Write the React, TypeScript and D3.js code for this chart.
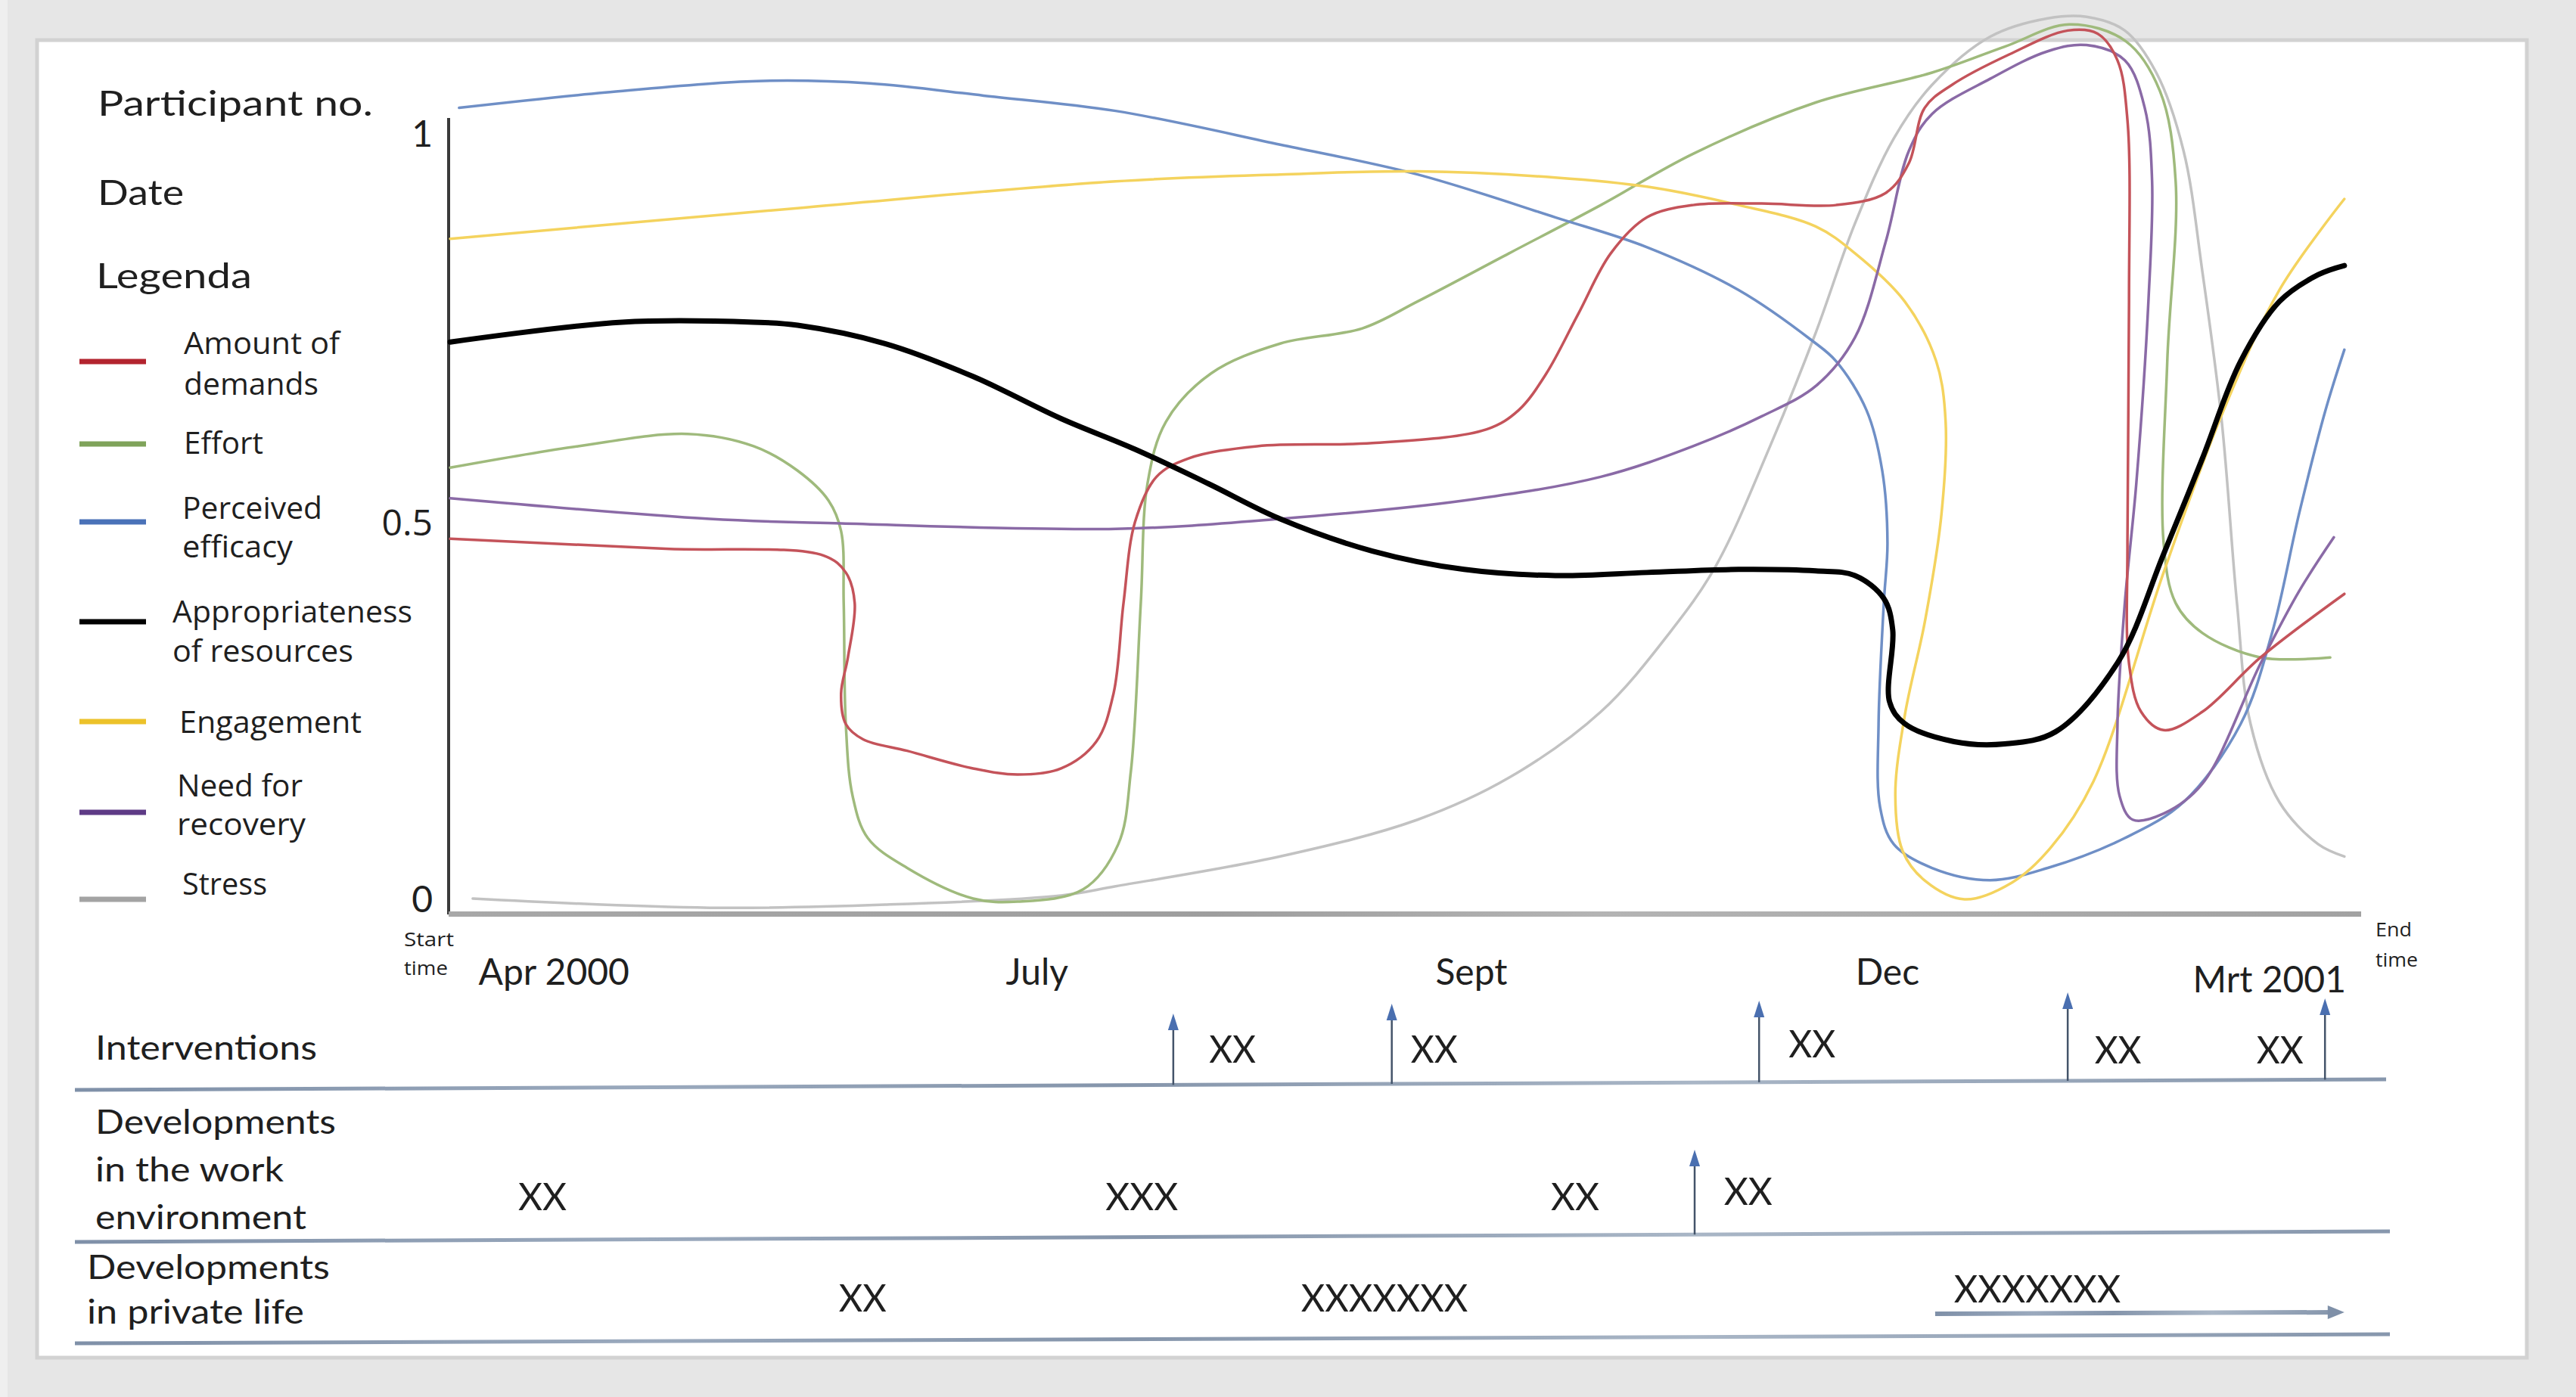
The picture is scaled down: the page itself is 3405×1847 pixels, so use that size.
import React from 'react';
import * as d3 from 'd3';

type Pt = [number, number]; // [day since start (Apr 2000), level 0..1]

// ---------- DATA ----------
const demands: Pt[] = [
  [0.3, 0.471], [41.4, 0.458], [71.6, 0.449], [75.8, 0.427], [77.5, 0.387], [76.2, 0.316],
  [74.9, 0.269], [75.8, 0.229], [79.1, 0.209], [87.5, 0.194], [100.1, 0.171], [108.6, 0.163],
  [116.9, 0.171], [123.6, 0.206], [126.9, 0.269], [128.8, 0.387], [131.0, 0.493], [135.1, 0.552],
  [141.2, 0.576], [154.3, 0.592], [176.3, 0.596], [198.1, 0.614], [204.2, 0.639], [209.5, 0.687],
  [215.6, 0.765], [221.8, 0.844], [228.7, 0.891], [237.5, 0.907], [250.6, 0.909], [264.8, 0.907],
  [274.3, 0.923], [278.7, 0.962], [281.7, 1.034], [286.9, 1.064], [297.9, 1.104], [309.0, 1.135],
  [314.7, 1.131], [318.5, 1.096], [320.4, 1.018], [320.7, 0.781], [320.4, 0.466], [320.7, 0.308],
  [323.0, 0.245], [327.3, 0.221], [334.7, 0.245], [345.8, 0.316], [361.8, 0.399],
];
const effort: Pt[] = [
  [0.3, 0.564], [24.7, 0.592], [45.6, 0.608], [58.2, 0.592], [66.6, 0.560], [72.5, 0.521],
  [74.9, 0.481], [75.4, 0.387], [75.8, 0.229], [77.1, 0.135], [80.0, 0.080], [87.5, 0.041],
  [100.1, 0.001], [108.6, -0.003], [121.1, 0.013], [127.8, 0.072], [130.2, 0.167], [132.1, 0.387],
  [133.4, 0.544], [136.9, 0.624], [145.5, 0.687], [158.7, 0.726], [174.4, 0.746], [184.9, 0.781],
  [202.4, 0.844], [219.9, 0.907], [237.5, 0.974], [260.9, 1.041], [283.1, 1.080], [297.0, 1.114],
  [309.3, 1.143], [320.1, 1.121], [326.6, 1.056], [329.6, 0.938], [328.0, 0.703], [327.3, 0.466],
  [329.6, 0.387], [334.7, 0.348], [345.8, 0.316], [359.1, 0.316],
];
const efficacy: Pt[] = [
  [2.0, 1.034], [29.9, 1.054], [58.8, 1.069], [80.4, 1.066], [102.1, 1.050], [127.3, 1.030],
  [158.7, 0.986], [184.9, 0.947], [211.2, 0.891], [228.7, 0.852], [246.2, 0.796], [260.2, 0.730],
  [264.8, 0.703], [270.6, 0.639], [273.6, 0.560], [274.6, 0.466], [273.9, 0.387], [272.9, 0.229],
  [273.2, 0.120], [275.8, 0.072], [283.1, 0.041], [294.2, 0.025], [305.2, 0.041], [319.9, 0.080],
  [331.1, 0.127], [342.0, 0.229], [348.0, 0.348], [353.2, 0.505], [358.2, 0.639], [361.8, 0.718],
];
const resources: Pt[] = [
  [0.3, 0.728], [33.1, 0.754], [58.2, 0.754], [66.6, 0.750], [83.3, 0.726], [100.1, 0.683],
  [116.9, 0.628], [131.0, 0.588], [145.0, 0.543], [158.7, 0.497], [176.3, 0.455], [193.8, 0.431],
  [211.2, 0.423], [228.7, 0.427], [246.2, 0.431], [260.9, 0.429], [268.4, 0.423], [273.9, 0.393],
  [275.6, 0.352], [275.0, 0.258], [277.8, 0.230], [287.3, 0.206], [297.0, 0.203], [306.7, 0.219],
  [318.6, 0.310], [327.3, 0.451], [334.7, 0.576], [342.0, 0.703], [349.4, 0.781], [356.8, 0.816],
  [361.8, 0.828],
];
const engagement: Pt[] = [
  [0.3, 0.863], [66.6, 0.903], [127.3, 0.938], [158.7, 0.947], [184.9, 0.951], [211.2, 0.943],
  [228.7, 0.931], [246.2, 0.907], [260.9, 0.879], [268.4, 0.844], [277.9, 0.781], [283.9, 0.703],
  [285.7, 0.624], [284.9, 0.503], [281.8, 0.365], [277.9, 0.240], [276.1, 0.136], [277.5, 0.063],
  [281.8, 0.024], [289.3, 0.000], [298.4, 0.022], [305.7, 0.067], [313.9, 0.154], [327.3, 0.427],
  [338.4, 0.633], [349.4, 0.796], [361.8, 0.915],
];
const recovery: Pt[] = [
  [0.3, 0.524], [49.8, 0.497], [74.9, 0.491], [127.3, 0.484], [158.7, 0.497], [193.8, 0.521],
  [219.9, 0.552], [237.5, 0.592], [250.6, 0.631], [261.0, 0.671], [268.4, 0.734], [274.3, 0.860],
  [278.7, 0.978], [283.1, 1.026], [294.2, 1.072], [305.2, 1.108], [312.6, 1.116], [319.9, 1.096],
  [323.7, 1.034], [325.1, 0.939], [324.4, 0.781], [322.1, 0.544], [319.9, 0.387], [318.5, 0.229],
  [318.9, 0.135], [321.4, 0.104], [327.3, 0.112], [334.7, 0.151], [345.8, 0.308], [353.2, 0.403],
  [359.8, 0.473],
];
const stress: Pt[] = [
  [4.6, 0.001], [49.8, -0.011], [83.3, -0.007], [116.9, 0.005], [127.3, 0.017], [158.7, 0.056],
  [184.9, 0.104], [202.4, 0.159], [219.9, 0.245], [233.0, 0.348], [241.8, 0.435], [252.2, 0.592],
  [260.9, 0.740], [268.4, 0.883], [275.8, 0.994], [283.1, 1.064], [294.2, 1.127], [305.2, 1.151],
  [312.6, 1.153], [319.9, 1.135], [325.9, 1.080], [331.1, 0.978], [334.7, 0.820], [338.4, 0.624],
  [341.3, 0.387], [343.9, 0.229], [349.4, 0.127], [356.8, 0.072], [361.8, 0.056],
];

const legendLabels: string[][] = [
  ['Amount of', 'demands'], ['Effort'], ['Perceived', 'efficacy'],
  ['Appropriateness', 'of resources'], ['Engagement'], ['Need for', 'recovery'], ['Stress'],
];
const legendColors = ['#b3242f', '#7fa35a', '#4a72b8', '#000000', '#ecc22a', '#5e3b86', '#a3a3a3'];
const curveColors = ['#c4535a', '#9fba7c', '#6f8fc6', '#000000', '#f4d35e', '#8a6aa6', '#c2c2c2'];

const yTicks = [1, 0.5, 0];
const monthLabels = ['Apr 2000', 'July', 'Sept', 'Dec', 'Mrt 2001'];
const monthDays = [20.1, 112.3, 195.2, 274.6, 347.5];

const interventionDays = [138.3, 180.0, 250.1, 309.0, 358.1];
const interventionLabels = ['XX', 'XX', 'XX', 'XX', 'XX'];
const interventionLabelDays = [149.6, 188.1, 260.2, 318.6, 349.5];

const workLabels = ['XX', 'XXX', 'XX', 'XX'];
const workLabelDays = [17.9, 132.3, 215.0, 248.0];
const workArrowDays = [237.8];

const privateLabels = ['XX', 'XXXXXXX', 'XXXXXXX'];
const privateLabelDays = [79.0, 178.6, 303.2];
const privateSpan = [283.7, 361.8];

// ---------- LAYOUT ----------
const W = 3405;
const H = 1847;
const xScale = d3.scaleLinear().domain([0, 365]).range([593, 3121]);
const yScale = d3.scaleLinear().domain([0, 1]).range([1189, 177]);

const lineGen = d3
  .line<Pt>()
  .x((d) => xScale(d[0]))
  .y((d) => yScale(d[1]))
  .curve(d3.curveCatmullRom.alpha(0.5));

const seriesList: Pt[][] = [demands, effort, efficacy, resources, engagement, recovery, stress];
const drawOrder = [6, 1, 2, 4, 5, 0, 3];

const legendLayout = [
  { y: 478, tx: 243, base: [468, 522], w: [206, 178] },
  { y: 587, tx: 243, base: [600], w: [105] },
  { y: 690, tx: 241, base: [686, 737], w: [185, 146] },
  { y: 822, tx: 228, base: [823, 875], w: [317, 239] },
  { y: 954, tx: 237, base: [969], w: [241] },
  { y: 1074, tx: 234, base: [1053, 1104], w: [166, 170] },
  { y: 1189, tx: 241, base: [1183], w: [112] },
];

const rows = [
  { x1: 99, y1: 1441, x2: 3154, y2: 1427 },
  { x1: 99, y1: 1642, x2: 3159, y2: 1628 },
  { x1: 99, y1: 1776, x2: 3159, y2: 1764 },
];
const rowY = (r: number, x: number) => {
  const o = rows[r];
  return o.y1 + ((x - o.x1) / (o.x2 - o.x1)) * (o.y2 - o.y1);
};

const CAL = 'Lato, "Open Sans", sans-serif';
const SEG = '"Open Sans", "Noto Sans", sans-serif';
const TXT = '#1f1f1f';

const interventionTips = [1340, 1327, 1323, 1312, 1320];
const interventionBaselines = [1405, 1405, 1398, 1406, 1406];

function UpArrow({ x, base, tip }: { x: number; base: number; tip: number }) {
  return (
    <g>
      <line x1={x} y1={base} x2={x} y2={tip + 12} stroke="#44546a" strokeWidth={2.5} />
      <path d={`M${x},${tip} L${x - 7},${tip + 22} L${x + 7},${tip + 22} Z`} fill="#4a6fb0" />
    </g>
  );
}

export default function App() {
  const xTicksText = monthLabels.map((m, i) => ({ m, x: xScale(monthDays[i]) }));
  const arrowY = 1735;
  const pa1 = xScale(privateSpan[0]);
  const pa2 = xScale(privateSpan[1]);
  return (
    <svg
      width={W}
      height={H}
      viewBox={`0 0 ${W} ${H}`}
      style={{ position: 'absolute', left: 0, top: 0, display: 'block' }}
    >
      <defs>
        <linearGradient id="rowGrad" x1="0" x2="1" y1="0" y2="0">
          <stop offset="0" stopColor="#7f90a8" />
          <stop offset="0.25" stopColor="#9aa9bd" />
          <stop offset="0.45" stopColor="#8595ab" />
          <stop offset="0.7" stopColor="#a9b6c6" />
          <stop offset="1" stopColor="#8797ad" />
        </linearGradient>
        <linearGradient id="axisGrad" x1="0" x2="1" y1="0" y2="0">
          <stop offset="0" stopColor="#a8a8a8" />
          <stop offset="0.4" stopColor="#9e9e9e" />
          <stop offset="0.6" stopColor="#b4b4b4" />
          <stop offset="1" stopColor="#a2a2a2" />
        </linearGradient>
      </defs>

      {/* frame */}
      <rect x={0} y={0} width={W} height={H} fill="#e6e6e6" />
      <rect x={0} y={0} width={10} height={H} fill="#efefef" />
      <rect x={49} y={53} width={3291} height={1742} fill="#ffffff" stroke="#d2d2d2" strokeWidth={5} />

      {/* header texts */}
      <text x={129} y={153} fontFamily={CAL} fontSize={47} fill={TXT} textLength={364} lengthAdjust="spacingAndGlyphs">
        Participant no.
      </text>
      <text x={129} y={271} fontFamily={CAL} fontSize={47} fill={TXT} textLength={114} lengthAdjust="spacingAndGlyphs">
        Date
      </text>
      <text x={127} y={381} fontFamily={CAL} fontSize={47} fill={TXT} textLength={206} lengthAdjust="spacingAndGlyphs">
        Legenda
      </text>

      {/* legend */}
      {legendLabels.map((lines, i) => {
        const L = legendLayout[i];
        return (
          <g key={i}>
            <line x1={105} x2={193} y1={L.y} y2={L.y} stroke={legendColors[i]} strokeWidth={7} />
            {lines.map((t, j) => (
              <text
                key={j}
                x={L.tx}
                y={L.base[j]}
                fontFamily={SEG}
                fontSize={40}
                fill={TXT}
                textLength={L.w[j]}
                lengthAdjust="spacingAndGlyphs"
              >
                {t}
              </text>
            ))}
          </g>
        );
      })}

      {/* y ticks */}
      {yTicks.map((v) => (
        <text
          key={v}
          x={572}
          y={yScale(v) + (v === 0.5 ? 25 : 17)}
          textAnchor="end"
          fontFamily={v === 0.5 ? SEG : CAL}
          fontSize={48}
          fill={TXT}
        >
          {String(v)}
        </text>
      ))}

      {/* axes */}
      <line x1={xScale(0)} x2={xScale(0)} y1={156} y2={1209} stroke="#3a3a3a" strokeWidth={4} />
      <rect x={xScale(0)} y={1205} width={xScale(365) - xScale(0)} height={7} fill="url(#axisGrad)" />

      <text x={534} y={1251} fontFamily={SEG} fontSize={26} fill={TXT} textLength={66} lengthAdjust="spacingAndGlyphs">Start</text>
      <text x={534} y={1289} fontFamily={SEG} fontSize={26} fill={TXT} textLength={58} lengthAdjust="spacingAndGlyphs">time</text>
      <text x={3140} y={1238} fontFamily={SEG} fontSize={26} fill={TXT} textLength={48} lengthAdjust="spacingAndGlyphs">End</text>
      <text x={3140} y={1278} fontFamily={SEG} fontSize={26} fill={TXT} textLength={56} lengthAdjust="spacingAndGlyphs">time</text>

      {xTicksText.map((t, i) => (
        <text key={t.m} x={t.x} y={i === 4 ? 1312 : 1302} textAnchor="middle" fontFamily={CAL} fontSize={48} fill={TXT}>
          {t.m}
        </text>
      ))}

      {/* curves */}
      {drawOrder.map((i) => (
        <path
          key={i}
          d={lineGen(seriesList[i]) || ''}
          fill="none"
          stroke={curveColors[i]}
          strokeWidth={i === 3 ? 7 : 3.5}
          strokeLinejoin="round"
          strokeLinecap="round"
        />
      ))}

      {/* bottom rows */}
      <text x={126} y={1401} fontFamily={CAL} fontSize={44} fill={TXT} textLength={293} lengthAdjust="spacingAndGlyphs">Interventions</text>
      <text x={126} y={1499} fontFamily={CAL} fontSize={44} fill={TXT} textLength={318} lengthAdjust="spacingAndGlyphs">Developments</text>
      <text x={126} y={1562} fontFamily={CAL} fontSize={44} fill={TXT} textLength={249} lengthAdjust="spacingAndGlyphs">in the work</text>
      <text x={126} y={1625} fontFamily={CAL} fontSize={44} fill={TXT} textLength={279} lengthAdjust="spacingAndGlyphs">environment</text>
      <text x={115} y={1691} fontFamily={CAL} fontSize={44} fill={TXT} textLength={321} lengthAdjust="spacingAndGlyphs">Developments</text>
      <text x={115} y={1750} fontFamily={CAL} fontSize={44} fill={TXT} textLength={287} lengthAdjust="spacingAndGlyphs">in private life</text>

      {rows.map((r, i) => (
        <line key={i} x1={r.x1} y1={r.y1} x2={r.x2} y2={r.y2} stroke="url(#rowGrad)" strokeWidth={5} />
      ))}

      {interventionDays.map((d, i) => {
        const x = xScale(d);
        return <UpArrow key={i} x={x} base={rowY(0, x)} tip={interventionTips[i]} />;
      })}
      {interventionLabels.map((t, i) => (
        <text
          key={i}
          x={xScale(interventionLabelDays[i])}
          y={interventionBaselines[i]}
          textAnchor="middle"
          fontFamily={CAL}
          fontSize={50}
          fill={TXT}
          textLength={62}
          lengthAdjust="spacingAndGlyphs"
        >
          {t}
        </text>
      ))}

      {workArrowDays.map((d, i) => {
        const x = xScale(d);
        return <UpArrow key={i} x={x} base={rowY(1, x)} tip={1520} />;
      })}
      {workLabels.map((t, i) => (
        <text
          key={i}
          x={xScale(workLabelDays[i])}
          y={i === 3 ? 1593 : 1600}
          textAnchor="middle"
          fontFamily={CAL}
          fontSize={50}
          fill={TXT}
          textLength={t.length * 32}
          lengthAdjust="spacingAndGlyphs"
        >
          {t}
        </text>
      ))}

      {privateLabels.map((t, i) => (
        <text
          key={i}
          x={xScale(privateLabelDays[i])}
          y={i === 2 ? 1722 : 1734}
          textAnchor="middle"
          fontFamily={CAL}
          fontSize={50}
          fill={TXT}
          textLength={t.length * 31.5}
          lengthAdjust="spacingAndGlyphs"
        >
          {t}
        </text>
      ))}
      <line x1={pa1} y1={arrowY + 2} x2={pa2 - 18} y2={arrowY} stroke="url(#rowGrad)" strokeWidth={6} />
      <path d={`M${pa2},${arrowY} L${pa2 - 22},${arrowY - 9} L${pa2 - 22},${arrowY + 9} Z`} fill="#7f90a8" />
    </svg>
  );
}
